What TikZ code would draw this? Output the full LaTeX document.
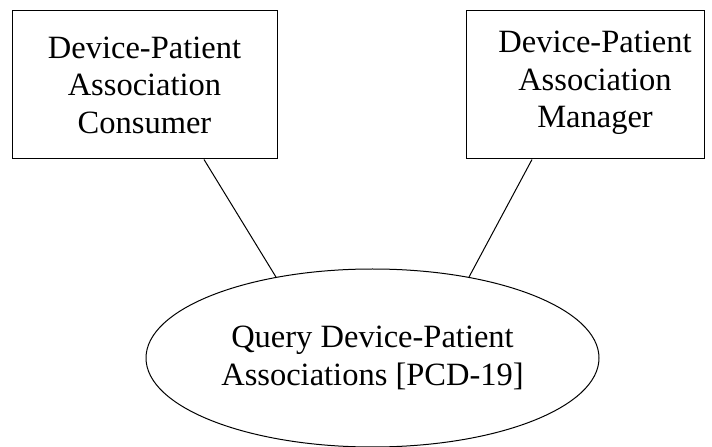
\documentclass[tikz,border=0pt]{standalone}
\usepackage{fontspec}
\setmainfont{Liberation Serif}
\usetikzlibrary{shapes.geometric,calc}
\begin{document}
\begin{tikzpicture}[x=1pt,y=1pt,
  txt/.style={align=center,inner sep=0pt,font=\fontsize{32.5}{37.5}\selectfont},
  actor/.style={draw,line width=1pt,minimum height=148pt,inner sep=0pt},
  usecase/.style={draw,ellipse,line width=1pt,minimum width=453pt,minimum height=178pt,inner sep=0pt,align=center,
    font=\fontsize{32.5}{37.5}\selectfont},
  link/.style={line width=1pt}]
\useasboundingbox (0,0) rectangle (712,447);
\node[actor,minimum width=238pt] (b) at (585,362) {};
\node[actor,minimum width=265pt,txt] (a) at (144.5,362) {Device-Patient\\Association\\Consumer};
\node[txt] (bt) at (595,364) {Device-Patient\\Association\\Manager};
\node[usecase] (q) at (372.5,89) {Query Device-Patient\\Associations [PCD-19]};
\coordinate (a1) at ($(a.south)+(59.5,0)$);
\coordinate (b1) at ($(b.south)+(-53,0)$);
\draw[link] (a1) -- (q.140);
\draw[link] (b1) -- (q.40);
\end{tikzpicture}
\end{document}
